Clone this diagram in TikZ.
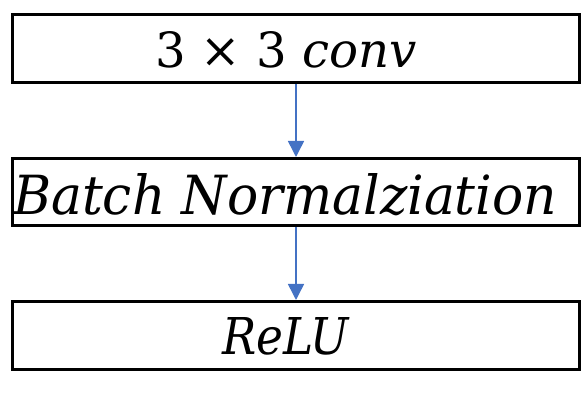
\documentclass[tikz,border=0pt]{standalone}
\usepackage{fontspec}
\newfontfamily\dvs{DejaVu Serif}
\usetikzlibrary{arrows.meta}
\definecolor{arrblue}{RGB}{68,114,196}
\begin{document}
\begin{tikzpicture}[x=1pt,y=1pt,
  blockbox/.style={draw=black,line width=3pt,inner sep=0pt,minimum width=567pt,minimum height=68pt},
  lbl/.style={anchor=base west,inner sep=0pt,outer sep=0pt,font=\dvs},
  flow/.style={draw=arrblue,line width=1.5pt,-{Triangle[width=16pt,length=16pt]}}]
\useasboundingbox (0,0) rectangle (586,401);
\node[blockbox] (b1) at (296,352.5) {};
\node[blockbox,minimum height=67pt] (b2) at (296,209) {};
\node[blockbox] (b3) at (296,65.5) {};
\node[lbl] (t1) at (155,333) {\resizebox{262pt}{36pt}{3 × 3 \textit{conv}}};
\node[lbl] (t2) at (13,186) {\resizebox{544pt}{41pt}{\itshape Batch Normalziation}};
\node[lbl] (t3) at (222,46) {\resizebox{127pt}{37pt}{\itshape ReLU}};
\draw[flow] (b1.south) -- (b2.north);
\draw[flow] (b2.south) -- (b3.north);
\end{tikzpicture}
\end{document}
